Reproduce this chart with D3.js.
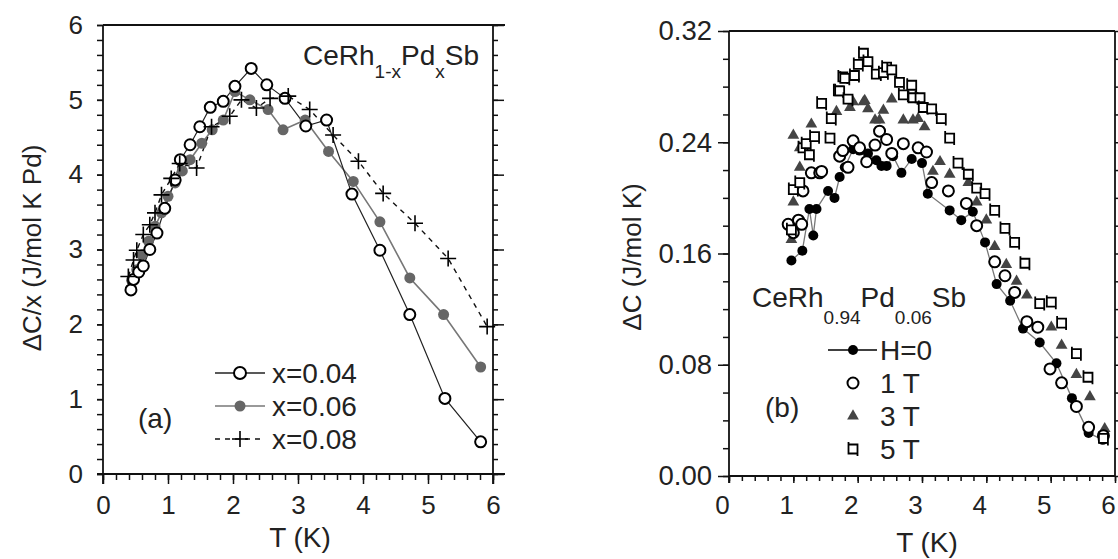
<!DOCTYPE html>
<html><head><meta charset="utf-8">
<script src="https://cdn.jsdelivr.net/npm/d3@7"></script>
<style>
body{margin:0;background:#fff}
text{font-family:"Liberation Sans",Arial,sans-serif;fill:#222}
</style>
</head><body>
<svg id="c" width="1118" height="559"></svg>
<script>
// ---------- Panel (a): ΔC/x vs T ----------
const t04 = [0.43,0.47,0.55,0.62,0.72,0.83,0.95,1.11,1.19,1.34,1.49,1.65,1.85,2.03,2.28,2.52,2.80,3.12,3.44,3.83,4.26,4.72,5.26,5.81];
const c04 = [2.46,2.60,2.70,2.78,3.00,3.22,3.55,3.93,4.20,4.40,4.64,4.90,4.98,5.18,5.42,5.20,5.02,4.65,4.73,3.74,2.99,2.13,1.01,0.43];
const t06 = [0.44,0.52,0.60,0.70,0.80,0.90,1.00,1.11,1.22,1.34,1.52,1.68,1.85,2.03,2.26,2.54,2.77,3.11,3.47,3.85,4.26,4.72,5.24,5.81];
const c06 = [2.59,2.73,2.93,3.11,3.31,3.49,3.71,3.89,4.05,4.20,4.42,4.60,4.73,5.11,5.00,4.87,4.60,4.73,4.31,3.91,3.37,2.62,2.13,1.43];
const t08 = [0.39,0.47,0.52,0.62,0.72,0.80,0.90,1.05,1.18,1.44,1.67,1.95,2.13,2.36,2.57,2.85,3.18,3.54,3.93,4.31,4.80,5.31,5.91];
const c08 = [2.64,2.86,2.99,3.20,3.33,3.49,3.73,3.95,4.15,4.09,4.64,4.78,5.00,4.89,5.02,5.05,4.87,4.53,4.18,3.75,3.35,2.88,1.97];
const legendA = ["x=0.04","x=0.06","x=0.08"];

// ---------- Panel (b): ΔC vs T ----------
const tH0 = [0.97,1.14,1.25,1.31,1.36,1.54,1.64,1.72,1.80,1.93,2.03,2.16,2.29,2.37,2.45,2.55,2.68,2.84,3.00,3.09,3.43,3.61,3.79,3.98,4.16,4.37,4.57,4.83,5.09,5.33,5.59,5.81];
const cH0 = [0.155,0.162,0.192,0.173,0.192,0.205,0.200,0.215,0.222,0.235,0.234,0.232,0.227,0.223,0.223,0.230,0.218,0.228,0.225,0.203,0.191,0.184,0.190,0.168,0.138,0.126,0.106,0.096,0.081,0.056,0.031,0.026];
const tH1 = [0.92,1.00,1.08,1.13,1.15,1.28,1.41,1.44,1.72,1.77,1.85,1.93,2.03,2.14,2.27,2.34,2.45,2.53,2.71,2.94,3.07,3.15,3.41,3.69,3.85,4.13,4.29,4.44,4.63,4.80,4.99,5.17,5.40,5.59,5.82];
const cH1 = [0.181,0.175,0.184,0.181,0.205,0.218,0.218,0.219,0.230,0.234,0.222,0.241,0.236,0.226,0.238,0.248,0.242,0.232,0.239,0.236,0.233,0.211,0.205,0.196,0.180,0.154,0.144,0.132,0.111,0.107,0.077,0.067,0.050,0.035,0.029];
const tH3 = [0.97,1.00,1.00,1.10,1.10,1.28,1.67,1.88,1.93,1.95,2.09,2.11,2.16,2.27,2.34,2.40,2.53,2.71,2.86,2.94,3.04,3.17,3.28,3.43,3.72,3.85,4.00,4.13,4.31,4.47,4.63,5.01,5.17,5.40,5.61,5.84];
const cH3 = [0.170,0.197,0.245,0.222,0.236,0.253,0.262,0.265,0.269,0.287,0.269,0.270,0.264,0.256,0.256,0.263,0.271,0.256,0.256,0.257,0.251,0.219,0.226,0.217,0.211,0.197,0.184,0.165,0.152,0.140,0.130,0.107,0.094,0.073,0.057,0.034];
const tH5 = [0.97,1.00,1.10,1.15,1.20,1.25,1.33,1.44,1.57,1.59,1.70,1.72,1.77,1.80,1.85,1.95,2.01,2.09,2.16,2.29,2.40,2.45,2.53,2.65,2.71,2.84,2.86,2.97,3.02,3.15,3.30,3.43,3.56,3.72,3.85,3.98,4.13,4.29,4.44,4.60,4.83,5.01,5.17,5.40,5.58,5.82];
const cH5 = [0.177,0.206,0.211,0.236,0.239,0.231,0.244,0.268,0.243,0.257,0.277,0.277,0.287,0.286,0.271,0.288,0.296,0.304,0.298,0.289,0.290,0.294,0.292,0.283,0.274,0.281,0.272,0.272,0.265,0.264,0.257,0.243,0.225,0.217,0.207,0.203,0.191,0.178,0.168,0.153,0.124,0.125,0.110,0.088,0.071,0.027];
const legendB = ["H=0","1 T","3 T","5 T"];

const majT = [0,1,2,3,4,5,6];
const minT = d3.range(0,31).map(i=>i/5);
const majA = [0,1,2,3,4,5,6];
const minA = d3.range(0,31).map(i=>i/5);
const majB = d3.range(0,5).map(i=>i*0.08);
const minB = d3.range(0,17).map(i=>i*0.02);

const svg = d3.select("#c");
svg.append("rect").attr("width",1118).attr("height",559).attr("fill","#fff");

const xa = d3.scaleLinear([0,6],[103,493]);
const ya = d3.scaleLinear([0,6],[474,25]);
const xb = d3.scaleLinear([0,6],[729,1115]);
const yb = d3.scaleLinear([0,0.32],[476,31]);

function styleAxis(g, fs){
  g.select(".domain").remove();
  g.selectAll("line").attr("stroke","#111").attr("stroke-width",1.5);
  g.selectAll("text").attr("font-size",fs).attr("fill","#222").style("font-family","'Liberation Sans',Arial,sans-serif");
}
function ln(x1,y1,x2,y2){
  svg.append("line").attr("x1",x1).attr("y1",y1).attr("x2",x2).attr("y2",y2).attr("stroke","#111").attr("stroke-width",1.8);
}

// ===== Panel (a) axes =====
svg.append("g").attr("transform","translate(0,474)").call(d3.axisBottom(xa).tickValues(minT).tickSize(6).tickFormat("")).call(styleAxis,26);
svg.append("g").attr("transform","translate(0,474)").call(d3.axisBottom(xa).tickValues(majT).tickSize(10).tickPadding(12).tickFormat(d3.format("d"))).call(styleAxis,26);
svg.append("g").attr("transform","translate(103,0)").call(d3.axisLeft(ya).tickValues(minA).tickSize(6).tickFormat("")).call(styleAxis,26);
svg.append("g").attr("transform","translate(103,0)").call(d3.axisLeft(ya).tickValues(majA).tickSize(6).tickPadding(14).tickFormat(d3.format("d"))).call(styleAxis,26);
svg.append("g").attr("transform","translate(493,0)").call(d3.axisRight(ya).tickValues(minA).tickSize(5).tickFormat("")).call(styleAxis,26);
svg.append("g").attr("transform","translate(493,0)").call(d3.axisRight(ya).tickValues(majA).tickSize(11).tickFormat("")).call(styleAxis,26);
ln(xa(0)-6, ya(0), xa(6)+12, ya(0));
ln(xa(0), ya(6), xa(6)+12, ya(6));
ln(xa(0), ya(6), xa(0), ya(0)+10);
ln(xa(6), ya(6), xa(6), ya(0)+10);

// ===== Panel (b) axes =====
svg.append("g").attr("transform","translate(0,476)").call(d3.axisBottom(xb).tickValues(minT).tickSize(5).tickFormat("")).call(styleAxis,26);
const gbx = svg.append("g").attr("transform","translate(0,476)").call(d3.axisBottom(xb).tickValues(majT).tickSize(7).tickPadding(13).tickFormat(d3.format("d"))).call(styleAxis,26);
gbx.selectAll("text").attr("dx",-7);
svg.append("g").attr("transform","translate(729,0)").call(d3.axisLeft(yb).tickValues(minB).tickSize(6).tickFormat("")).call(styleAxis,27);
svg.append("g").attr("transform","translate(729,0)").call(d3.axisLeft(yb).tickValues(majB).tickSize(11).tickPadding(6).tickFormat(d3.format(".2f"))).call(styleAxis,27.5);
svg.append("g").attr("transform","translate(1115,0)").call(d3.axisRight(yb).tickValues(minB).tickSize(4).tickFormat("")).call(styleAxis,26);
ln(xb(0), yb(0), xb(6), yb(0));
ln(xb(0), yb(0.32), xb(6), yb(0.32));
ln(xb(0), yb(0.32), xb(0), yb(0)+7);
ln(xb(6), yb(0.32), xb(6), yb(0));

// ===== axis titles =====
function txt(x,y,s,fs,opts={}){
  const t = svg.append("text").attr("x",x).attr("y",y).attr("font-size",fs).text(s);
  if(opts.anchor) t.attr("text-anchor",opts.anchor);
  if(opts.fill) t.attr("fill",opts.fill);
  if(opts.rot) t.attr("transform",`rotate(-90,${x},${y})`);
  return t;
}
txt(300,547,"T (K)",28,{anchor:"middle"});
txt(927,552,"T (K)",28,{anchor:"middle"});
txt(41,248,"ΔC/x (J/mol K Pd)",26,{anchor:"middle",rot:true});
txt(641,257,"ΔC (J/mol K)",26,{anchor:"middle",rot:true});

// ===== Panel (a) data =====
const lineA = d3.line().x(d=>xa(d[0])).y(d=>ya(d[1]));
const d04 = d3.zip(t04,c04), d06 = d3.zip(t06,c06), d08 = d3.zip(t08,c08);
svg.append("path").datum(d06).attr("d",lineA).attr("fill","none").attr("stroke","#777").attr("stroke-width",1.6);
svg.append("path").datum(d04).attr("d",lineA).attr("fill","none").attr("stroke","#222").attr("stroke-width",1.2);
svg.append("path").datum(d08).attr("d",lineA).attr("fill","none").attr("stroke","#111").attr("stroke-width",1.4).attr("stroke-dasharray","5,5");
svg.append("g").selectAll("circle").data(d06).join("circle")
  .attr("cx",d=>xa(d[0])).attr("cy",d=>ya(d[1])).attr("r",5.5).attr("fill","#666");
svg.append("g").selectAll("circle").data(d04).join("circle")
  .attr("cx",d=>xa(d[0])).attr("cy",d=>ya(d[1])).attr("r",5.5).attr("fill","#fff").attr("stroke","#000").attr("stroke-width",2);
const plus = "M-8,0H8M0,-8V8";
svg.append("g").selectAll("path").data(d08).join("path").attr("d",plus)
  .attr("transform",d=>`translate(${xa(d[0])},${ya(d[1])})`).attr("stroke","#000").attr("stroke-width",1.6).attr("fill","none");

// legend (a)
const legAy = [373,406,439];
const legAstyle = [{s:"#222",dash:null,c:"#000"},{s:"#777",dash:null,c:"#777"},{s:"#111",dash:"5,5",c:"#000"}];
legendA.forEach((name,i)=>{
  const y = legAy[i];
  const l = svg.append("line").attr("x1",215).attr("x2",265).attr("y1",y).attr("y2",y).attr("stroke",legAstyle[i].s).attr("stroke-width",1.5);
  if(legAstyle[i].dash) l.attr("stroke-dasharray",legAstyle[i].dash);
  if(i===0) svg.append("circle").attr("cx",240).attr("cy",y).attr("r",6).attr("fill","#fff").attr("stroke","#000").attr("stroke-width",2);
  if(i===1) svg.append("circle").attr("cx",240).attr("cy",y).attr("r",5.5).attr("fill","#666");
  if(i===2) svg.append("path").attr("d",plus).attr("transform",`translate(240,${y})`).attr("stroke","#000").attr("stroke-width",1.6);
  txt(272,y+10,name,28,{fill:legAstyle[i].c});
});
txt(138,428,"(a)",28);
const fa = svg.append("text").attr("x",303).attr("y",65).attr("font-size",28);
fa.append("tspan").text("CeRh");
fa.append("tspan").attr("font-size",19).attr("dy",13).text("1-x");
fa.append("tspan").attr("dy",-13).text("Pd");
fa.append("tspan").attr("font-size",19).attr("dy",13).text("x");
fa.append("tspan").attr("dy",-13).text("Sb");

// ===== Panel (b) data =====
const dH0 = d3.zip(tH0,cH0), dH1 = d3.zip(tH1,cH1), dH3 = d3.zip(tH3,cH3), dH5 = d3.zip(tH5,cH5);
const lineB = d3.line().x(d=>xb(d[0])).y(d=>yb(d[1]));
svg.append("path").datum(dH0).attr("d",lineB).attr("fill","none").attr("stroke","#777").attr("stroke-width",1.3);
svg.append("g").selectAll("circle").data(dH0).join("circle")
  .attr("cx",d=>xb(d[0])).attr("cy",d=>yb(d[1])).attr("r",5).attr("fill","#000");
const tri = d3.symbol(d3.symbolTriangle, 60)();
svg.append("g").selectAll("path").data(dH3).join("path").attr("d",tri)
  .attr("transform",d=>`translate(${xb(d[0])},${yb(d[1])})`).attr("fill","#444");
svg.append("g").selectAll("circle").data(dH1).join("circle")
  .attr("cx",d=>xb(d[0])).attr("cy",d=>yb(d[1])).attr("r",5.5).attr("fill","#fff").attr("stroke","#000").attr("stroke-width",2);
const sq = "M-4.5,-4.5H4.5V4.5H-4.5Z M-4.5,-4.5V-7 M4.5,4.5V7";
svg.append("g").selectAll("path").data(dH5).join("path").attr("d",sq)
  .attr("transform",d=>`translate(${xb(d[0])},${yb(d[1])})`).attr("fill","#fff").attr("stroke","#000").attr("stroke-width",1.8);

// legend (b)
const legBy = [350,383,416,449];
legendB.forEach((name,i)=>{
  const y = legBy[i];
  if(i===0){
    svg.append("line").attr("x1",828).attr("x2",877).attr("y1",y).attr("y2",y).attr("stroke","#000").attr("stroke-width",1.5);
    svg.append("circle").attr("cx",853).attr("cy",y).attr("r",5).attr("fill","#000");
  }
  if(i===1) svg.append("circle").attr("cx",853).attr("cy",y).attr("r",5.5).attr("fill","#fff").attr("stroke","#000").attr("stroke-width",2);
  if(i===2) svg.append("path").attr("d",tri).attr("transform",`translate(853,${y})`).attr("fill","#444");
  if(i===3) svg.append("path").attr("d",sq).attr("transform",`translate(853,${y})`).attr("fill","#fff").attr("stroke","#000").attr("stroke-width",1.8);
  txt(880,y+10,name,28);
});
txt(765,417,"(b)",28);
const fb = svg.append("text").attr("x",752).attr("y",307).attr("font-size",28);
fb.append("tspan").text("CeRh");
fb.append("tspan").attr("font-size",19).attr("dy",17).text("0.94");
fb.append("tspan").attr("dy",-17).text("Pd");
fb.append("tspan").attr("font-size",19).attr("dy",17).text("0.06");
fb.append("tspan").attr("dy",-17).text("Sb");
</script>
</body></html>
